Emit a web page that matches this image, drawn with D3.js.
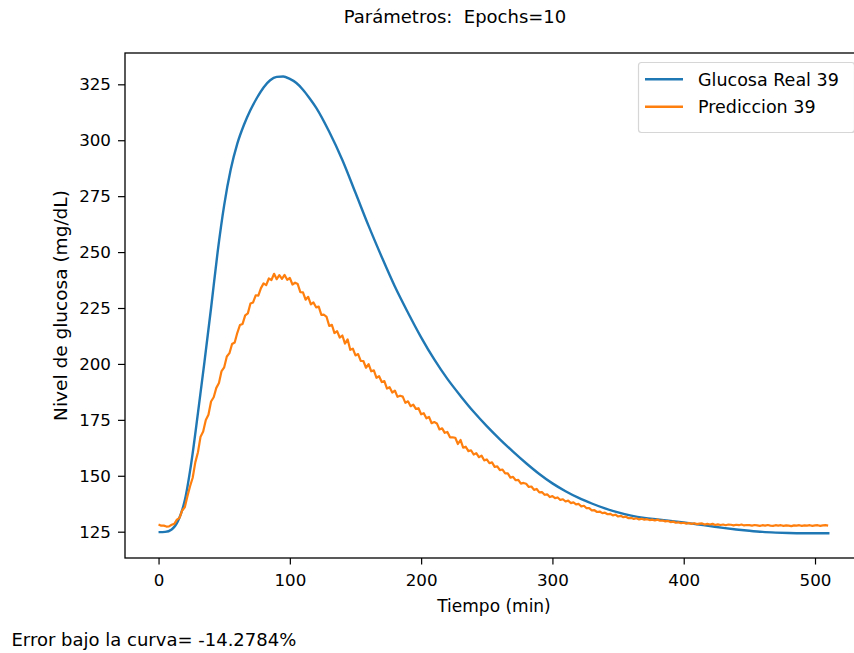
<!DOCTYPE html>
<html>
<head>
<meta charset="utf-8">
<script src="https://cdn.jsdelivr.net/npm/d3@7"></script>
<style>
  body { margin: 0; background: #fff; }
  text { font-family: "DejaVu Sans", sans-serif; fill: #000; white-space: pre; }
</style>
</head>
<body>
<div id="chart"></div>
<script>
// Glucosa real (curva suave)
var realTime = [0, 5, 10, 15, 20, 25, 30, 35, 40, 45, 50, 55, 60, 65, 70, 75, 80, 85, 90, 95, 100, 105, 110, 115, 120,
  130, 140, 150, 160, 170, 180, 190, 200, 210, 220, 230, 240, 250, 260, 270, 280, 290, 300, 310, 320, 330, 340,
  350, 360, 370, 380, 390, 400, 410, 420, 430, 440, 450, 460, 470, 480, 490, 500, 511];
var realGlucose = [124.8, 124.9, 126.0, 130.0, 139.0, 156.0, 178.0, 201.0, 225.0, 250.0, 271.0, 287.0, 298.5, 306.8, 313.5, 319.0, 323.6, 326.8, 328.3, 328.5, 327.4, 325.6, 322.6, 318.8, 314.6,
  303.8, 291.2, 276.5, 261.7, 247.8, 234.6, 222.9, 211.9, 202.0, 193.3, 185.7, 178.6, 172.2, 166.3, 160.8, 155.6, 150.8, 146.6, 143.1, 140.1, 137.6, 135.4,
  133.6, 132.2, 131.2, 130.5, 129.8, 129.1, 128.3, 127.5, 126.7, 126.0, 125.4, 124.9, 124.6, 124.4, 124.3, 124.3, 124.3];

// Prediccion (ruidosa), una muestra cada 2 min
var predStep = 2;
var predGlucose = [
  128.2, 127.7, 127.7, 127.3, 127.4, 128.1, 128.5, 130.4, 131.2, 134.5, 135.9, 140.9, 145.3, 149.1, 156.0, 160.5,
  167.5, 169.8, 174.9, 177.3, 183.2, 185.1, 189.3, 191.5, 196.8, 198.5, 203.3, 204.8, 208.9, 209.6, 213.9, 217.4,
  217.9, 221.7, 222.6, 227.0, 227.5, 230.7, 230.5, 233.9, 236.0, 235.2, 238.2, 237.5, 240.3, 237.9, 239.7, 238.0,
  239.8, 237.6, 238.4, 235.5, 236.3, 235.7, 232.1, 232.0, 228.7, 230.0, 226.6, 227.5, 225.3, 225.6, 221.9, 222.0,
  221.0, 217.0, 217.5, 213.8, 214.7, 211.8, 212.7, 209.1, 211.0, 206.3, 206.8, 203.8, 204.4, 201.4, 201.3, 198.3,
  199.9, 196.7, 197.1, 193.8, 194.5, 191.9, 192.3, 189.0, 189.6, 187.2, 188.1, 185.3, 185.8, 185.4, 182.6, 183.3,
  181.1, 181.8, 179.9, 180.2, 177.5, 178.0, 175.7, 176.3, 173.5, 174.0, 173.4, 170.7, 171.2, 169.2, 169.6, 167.2,
  167.2, 167.0, 164.2, 166.0, 162.6, 163.0, 161.0, 161.4, 159.5, 160.1, 158.3, 159.0, 156.9, 157.3, 155.6, 156.0,
  154.0, 154.2, 152.5, 152.8, 151.1, 151.1, 149.2, 149.5, 148.0, 148.2, 146.5, 146.8, 146.4, 145.0, 145.2, 143.7,
  144.1, 142.6, 142.7, 141.5, 141.7, 140.5, 140.9, 140.0, 140.3, 139.2, 139.5, 138.5, 138.9, 137.8, 138.1, 137.2,
  137.4, 136.3, 136.6, 135.5, 135.5, 134.5, 134.6, 133.8, 134.0, 133.3, 133.5, 132.8, 133.0, 132.3, 132.6, 131.8,
  132.1, 131.5, 131.7, 131.0, 131.2, 130.7, 131.0, 130.5, 130.8, 130.4, 130.6, 130.2, 130.4, 130.0, 130.4, 129.9,
  130.0, 129.6, 129.8, 129.3, 129.5, 129.0, 129.2, 128.8, 129.0, 128.6, 128.9, 128.5, 128.8, 128.4, 128.6, 128.7,
  128.2, 128.5, 128.2, 128.5, 128.0, 128.3, 128.0, 128.2, 127.9, 128.2, 128.1, 127.8, 128.1, 127.9, 128.2, 127.8,
  128.0, 127.9, 127.7, 128.0, 127.8, 127.6, 127.9, 127.7, 128.0, 127.7, 127.6, 127.9, 127.7, 127.9, 127.6, 127.8,
  127.7, 127.5, 127.8, 127.7, 127.9, 127.6, 127.8, 127.7, 127.9, 127.6, 127.8, 127.9, 127.6, 127.8, 127.9, 127.7];

var xTicks = [0, 100, 200, 300, 400, 500];
var yTicks = [125, 150, 175, 200, 225, 250, 275, 300, 325];
var seriesNames = ["Glucosa Real 39", "Prediccion 39"];
var seriesColors = ["#1f77b4", "#ff7f0e"];

var width = 854, height = 653;
var plotLeft = 125, plotRight = 863, plotTop = 53, plotBottom = 558;

var svg = d3.select("#chart").append("svg")
  .attr("width", width)
  .attr("height", height);

svg.append("rect").attr("width", width).attr("height", height).attr("fill", "#fff");

var x = d3.scaleLinear().domain([-25.55, 536.55]).range([plotLeft, plotRight]);
var y = d3.scaleLinear().domain([113.24, 339]).range([plotBottom, plotTop]);

var realData = realTime.map(function(t, i) { return { t: t, v: realGlucose[i] }; });
var predData = predGlucose.map(function(v, i) { return { t: i * predStep, v: v }; });

var line = d3.line()
  .x(function(d) { return x(d.t); })
  .y(function(d) { return y(d.v); });

svg.append("path")
  .datum(realData)
  .attr("fill", "none")
  .attr("stroke", seriesColors[0])
  .attr("stroke-width", 2.4)
  .attr("d", line.curve(d3.curveMonotoneX));

svg.append("path")
  .datum(predData)
  .attr("fill", "none")
  .attr("stroke", seriesColors[1])
  .attr("stroke-width", 2.2)
  .attr("stroke-linejoin", "round")
  .attr("d", line.curve(d3.curveLinear));

// axes
var xAxis = svg.append("g")
  .attr("transform", "translate(0," + plotBottom + ")")
  .call(d3.axisBottom(x).tickValues(xTicks).tickSize(6.5).tickPadding(5).tickSizeOuter(0));
xAxis.select(".domain").remove();
xAxis.selectAll("text").attr("font-size", "16.7px").attr("font-family", "DejaVu Sans").attr("dy", null).attr("y", 28);

var yAxis = svg.append("g")
  .attr("transform", "translate(" + plotLeft + ",0)")
  .call(d3.axisLeft(y).tickValues(yTicks).tickSize(7).tickPadding(7).tickSizeOuter(0));
yAxis.select(".domain").remove();
yAxis.selectAll("text").attr("font-size", "16.7px").attr("font-family", "DejaVu Sans");
svg.selectAll(".tick line").attr("stroke", "#000").attr("stroke-width", 1.2);

// spines
svg.append("rect")
  .attr("x", plotLeft).attr("y", plotTop)
  .attr("width", plotRight - plotLeft).attr("height", plotBottom - plotTop)
  .attr("fill", "none").attr("stroke", "#000").attr("stroke-width", 1.3);

// labels
svg.append("text")
  .attr("x", (plotLeft + plotRight) / 2).attr("y", 611.5)
  .attr("text-anchor", "middle").attr("font-size", "17px")
  .text("Tiempo (min)");

svg.append("text")
  .attr("transform", "translate(66.5," + (plotTop + plotBottom) / 2 + ") rotate(-90)")
  .attr("text-anchor", "middle").attr("font-size", "18.5px")
  .text("Nivel de glucosa (mg/dL)");

svg.append("text")
  .attr("x", 455).attr("y", 23)
  .attr("text-anchor", "middle").attr("font-size", "18px")
  .text("Parámetros:  Epochs=10");

svg.append("text")
  .attr("x", 11.5).attr("y", 646)
  .attr("font-size", "18px")
  .text("Error bajo la curva= -14.2784%");

// legend
var legend = svg.append("g");
legend.append("rect")
  .attr("x", 638.5).attr("y", 62.5)
  .attr("width", 216).attr("height", 70)
  .attr("rx", 3)
  .attr("fill", "#fff").attr("fill-opacity", 0.8)
  .attr("stroke", "#d6d6d6").attr("stroke-width", 1.2);

var item = legend.selectAll(".item")
  .data(seriesNames)
  .enter().append("g")
  .attr("transform", function(d, i) { return "translate(0," + (79.3 + i * 27.4) + ")"; });

item.append("line")
  .attr("x1", 645).attr("x2", 683)
  .attr("stroke", function(d, i) { return seriesColors[i]; })
  .attr("stroke-width", 2.4);

item.append("text")
  .attr("x", 698).attr("y", 6.4)
  .attr("font-size", "17.5px")
  .text(function(d) { return d; });
</script>
</body>
</html>
